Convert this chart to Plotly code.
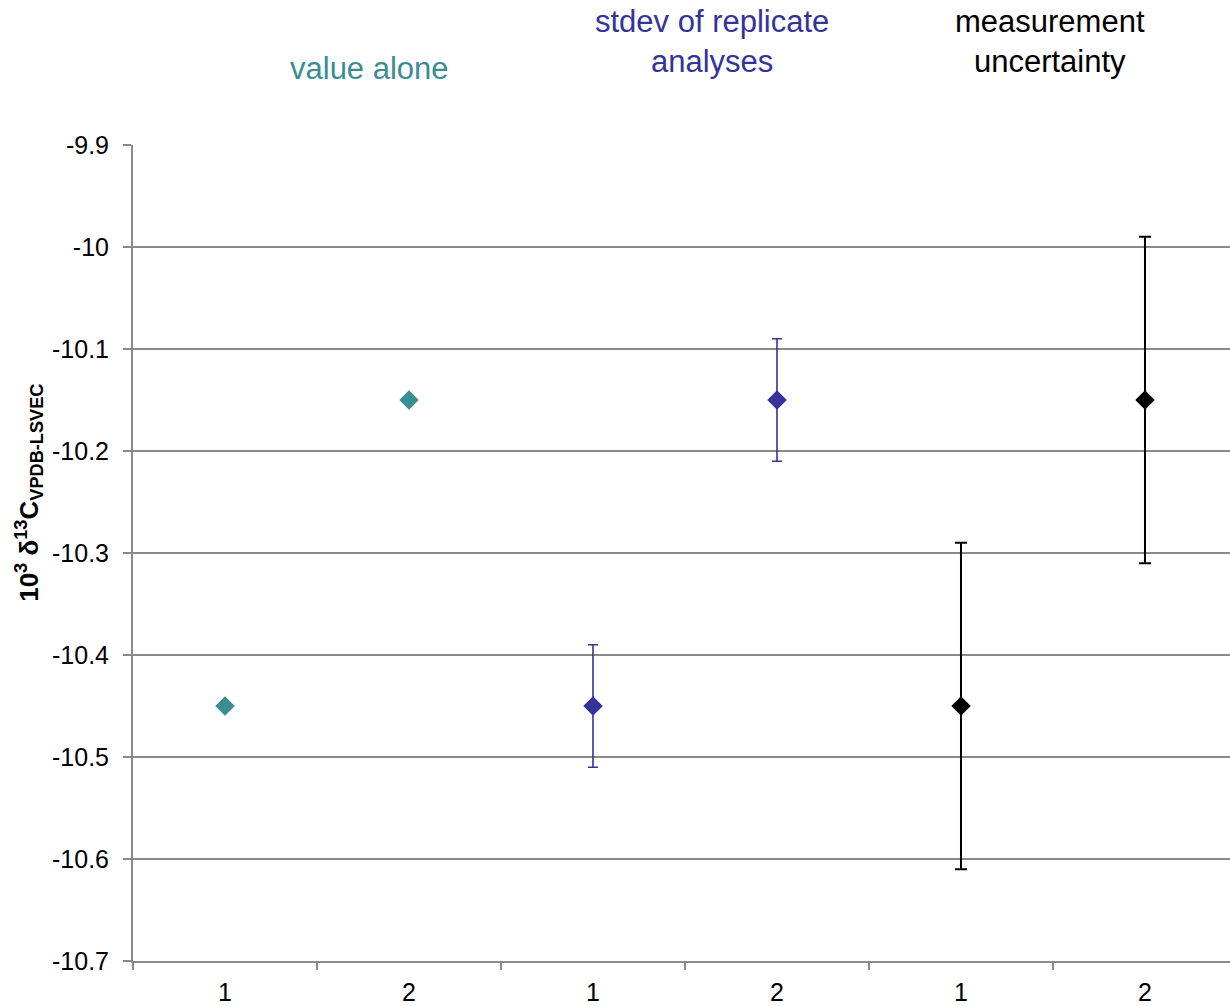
import plotly.graph_objects as go

categories = ["1", "2", "1", "2", "1", "2"]
group_titles = ["value alone", "stdev of replicate<br>analyses", "measurement<br>uncertainty"]
value_alone = [-10.45, -10.15]
stdev_vals = [-10.45, -10.15]
stdev_err = [0.06, 0.06]
meas_vals = [-10.45, -10.15]
meas_err = [0.16, 0.16]
y_ticks = [-10.7, -10.6, -10.5, -10.4, -10.3, -10.2, -10.1, -10.0, -9.9]

TEAL = "#3A8E93"
BLUE = "#333399"
BLACK = "#000000"
GRID = "#8A8A8A"
FONT = "Liberation Sans, Arial, sans-serif"

fig = go.Figure()
fig.add_trace(go.Scatter(
    x=[1, 2], y=value_alone, mode="markers",
    marker=dict(symbol="diamond", size=15, color=TEAL), showlegend=False))
fig.add_trace(go.Scatter(
    x=[3, 4], y=stdev_vals, mode="markers",
    marker=dict(symbol="diamond", size=15, color=BLUE),
    error_y=dict(type="data", array=stdev_err, symmetric=True, color=BLUE,
                 thickness=1.6, width=5),
    showlegend=False))
fig.add_trace(go.Scatter(
    x=[5, 6], y=meas_vals, mode="markers",
    marker=dict(symbol="diamond", size=15, color=BLACK),
    error_y=dict(type="data", array=meas_err, symmetric=True, color=BLACK,
                 thickness=2, width=6),
    showlegend=False))

fig.update_layout(
    width=1230, height=1006,
    margin=dict(l=133, r=0, t=145, b=45),
    paper_bgcolor="white", plot_bgcolor="white",
    font=dict(family=FONT, size=24, color="black"),
    xaxis=dict(
        range=[0.5, 6.462], tickvals=[1, 2, 3, 4, 5, 6], ticktext=categories,
        ticks="", showgrid=False, zeroline=False,
        showline=True, linecolor=GRID, linewidth=2,
        tickfont=dict(size=25, family=FONT), ticklabelstandoff=8,
        minor=dict(ticks="outside", ticklen=7, tickcolor=GRID, tickwidth=2,
                   tick0=0.5, dtick=1, showgrid=False),
    ),
    yaxis=dict(
        range=[-10.7, -9.9], tickvals=y_ticks,
        ticktext=[("%g" % v) for v in y_ticks],
        ticks="outside", ticklen=8, tickcolor=GRID, tickwidth=2,
        showgrid=True, gridcolor=GRID, gridwidth=1.6,
        zeroline=False, showline=True, linecolor=GRID, linewidth=2,
        tickfont=dict(size=25, family=FONT), ticklabelstandoff=9,
    ),
)

ann_x = [0.216, 0.528, 0.836]
ann_y = [1.094, 1.127, 1.127]
ann_c = [TEAL, BLUE, BLACK]
for t, x, y, c in zip(group_titles, ann_x, ann_y, ann_c):
    fig.add_annotation(text=t, x=x, y=y, xref="paper", yref="paper",
                       xanchor="center", yanchor="middle", showarrow=False,
                       font=dict(size=31, color=c, family=FONT))

fig.add_annotation(
    text="<b>10<sup>3</sup> δ<sup>13</sup>C<sub>VPDB-LSVEC</sub></b>",
    x=-0.095, y=0.5735, xref="paper", yref="paper", textangle=-90,
    xanchor="center", yanchor="middle", showarrow=False,
    font=dict(size=26, color="black", family=FONT))

fig.write_html("out.html", config={"displayModeBar": False},
               post_script="document.body.style.margin='0';")
